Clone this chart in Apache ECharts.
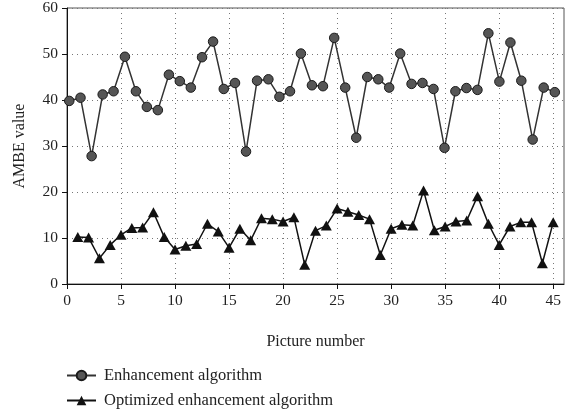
<!DOCTYPE html>
<html>
<head>
<meta charset="utf-8">
<script src="https://cdn.jsdelivr.net/npm/echarts@6/dist/echarts.min.js"></script>
<style>html,body{margin:0;padding:0;background:#fff;}#c{width:566px;height:409px;}</style>
</head>
<body>
<div id="c"></div>
<script>
// Picture positions (the circle series is drawn slightly shifted in the source)
const enhX = [0.21,1.25,2.28,3.30,4.31,5.36,6.38,7.39,8.41,9.43,10.44,11.46,12.50,13.52,14.51,15.55,16.57,17.59,18.64,19.66,20.64,21.65,22.67,23.69,24.73,25.75,26.77,27.79,28.81,29.82,30.84,31.89,32.90,33.92,34.94,35.95,36.97,37.99,39.00,40.02,41.04,42.05,43.10,44.12,45.15];
const enhY = [39.8,40.5,27.8,41.2,41.9,49.4,41.9,38.5,37.8,45.5,44.1,42.7,49.3,52.7,42.4,43.7,28.8,44.2,44.5,40.7,41.9,50.1,43.2,43.0,53.5,42.7,31.8,45.0,44.5,42.7,50.1,43.5,43.7,42.4,29.6,41.9,42.6,42.2,54.5,44.0,52.5,44.2,31.4,42.7,41.7];
const optX = [1,2,3,4,5,6,7,8,9,10,11,12,13,14,15,16,17,18,19,20,21,22,23,24,25,26,27,28,29,30,31,32,33,34,35,36,37,38,39,40,41,42,43,44,45];
const optY = [10.2,10.1,5.6,8.5,10.7,12.2,12.3,15.6,10.2,7.5,8.3,8.7,13.1,11.4,7.9,12.0,9.5,14.3,14.1,13.6,14.5,4.2,11.6,12.7,16.4,15.7,15.0,14.1,6.3,12.0,12.9,12.7,20.3,11.7,12.5,13.6,13.8,19.1,13.1,8.5,12.5,13.4,13.4,4.5,13.4];
const xTicks = [0,5,10,15,20,25,30,35,40,45];
const seriesNames = ['Enhancement algorithm','Optimized enhancement algorithm'];
const xName = 'Picture number';
const yName = 'AMBE value';

const font = 'Liberation Serif';
const legendBase = {orient:'vertical',left:66,padding:0,itemWidth:29,itemHeight:12,
  textStyle:{fontFamily:font,fontSize:16.5,color:'#222',padding:[0,0,0,3]}};
const chart = echarts.init(document.getElementById('c'), null, {renderer:'canvas'});
chart.setOption({
  animation:false,
  backgroundColor:'#fff',
  grid:{left:67,right:2,top:6,bottom:125,show:true,borderColor:'#555',borderWidth:1,backgroundColor:'transparent'},
  legend:[
    Object.assign({}, legendBase, {top:367, data:[seriesNames[0]]}),
    Object.assign({}, legendBase, {top:392, data:[seriesNames[1]]})
  ],
  xAxis:{
    type:'value',min:0,max:46,interval:5,
    name:xName,nameLocation:'middle',nameGap:50,
    nameTextStyle:{fontFamily:font,fontSize:16,color:'#222'},
    axisLine:{lineStyle:{color:'#111',width:1}},
    axisTick:{show:true,length:5,customValues:xTicks,lineStyle:{color:'#111'}},
    axisLabel:{customValues:xTicks,fontFamily:font,fontSize:15.5,color:'#222',margin:9},
    splitLine:{show:true,lineStyle:{color:'#777',type:[1,4],width:1}}
  },
  yAxis:{
    type:'value',min:0,max:60,interval:10,
    name:yName,nameLocation:'middle',nameGap:39,
    nameTextStyle:{fontFamily:font,fontSize:16,color:'#222'},
    axisLine:{show:true,lineStyle:{color:'#111',width:1}},
    axisTick:{show:true,length:5,lineStyle:{color:'#111'}},
    axisLabel:{fontFamily:font,fontSize:15.5,color:'#222',margin:9},
    splitLine:{show:true,lineStyle:{color:'#777',type:[1,4],width:1}}
  },
  series:[
    {
      name:seriesNames[0],type:'line',
      data:enhX.map((x,i)=>[x,enhY[i]]),
      symbol:'circle',symbolSize:9.5,
      lineStyle:{color:'#333',width:1.5},
      itemStyle:{color:'#555',borderColor:'#1a1a1a',borderWidth:1},
      z:2
    },
    {
      name:seriesNames[1],type:'line',
      data:optX.map((x,i)=>[x,optY[i]]),
      symbol:'triangle',symbolSize:[11,10],
      lineStyle:{color:'#111',width:1.5},
      itemStyle:{color:'#111',borderColor:'#111',borderWidth:0},
      z:3
    }
  ]
});
</script>
</body>
</html>
